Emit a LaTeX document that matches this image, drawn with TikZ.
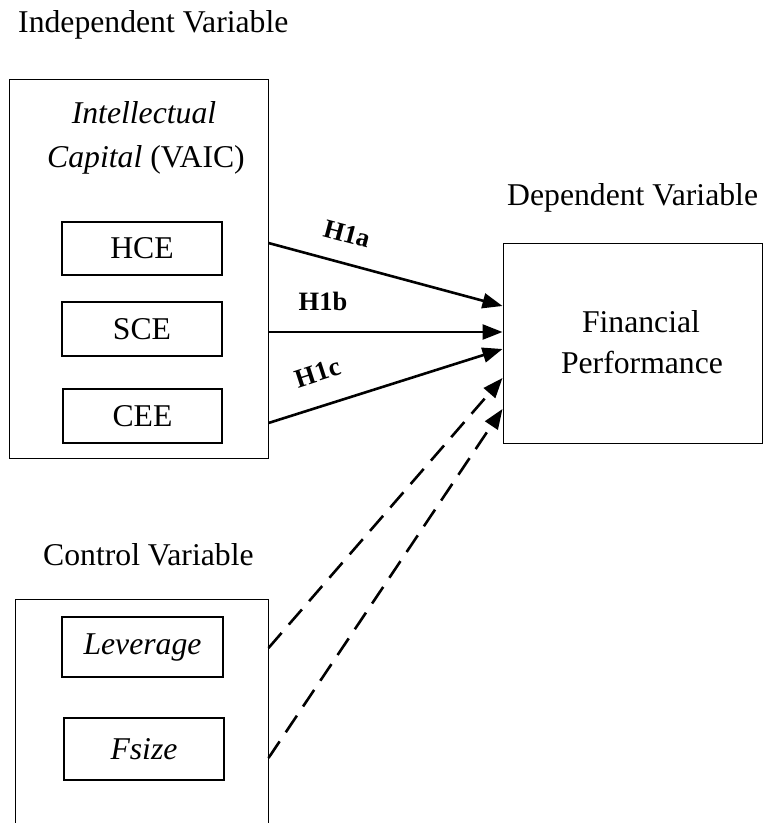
\documentclass[tikz,border=0pt]{standalone}
\usepackage{fontspec}
\setmainfont{Liberation Serif}
\usetikzlibrary{arrows.meta,calc}
\begin{document}
\begin{tikzpicture}[x=1pt,y=-1pt,
  lbl/.style={font=\fontsize{31.7}{36}\selectfont, inner sep=0pt},
  hyp/.style={font=\fontsize{26.5}{30}\selectfont\bfseries, inner sep=0pt},
  outer/.style={draw, line width=1pt, inner sep=0pt},
  inbox/.style={draw, line width=1.6pt, inner sep=0pt, font=\fontsize{31.7}{36}\selectfont},
  solidarr/.style={line width=2.6pt, -{Triangle[length=20pt,width=15pt]}},
  dasharr/.style={line width=2.6pt, dash pattern=on 20pt off 11pt, -{Triangle[length=20pt,width=15pt]}}
]
\useasboundingbox (0,0) rectangle (763,823);
\begin{scope}
\clip (0,0) rectangle (763,823);
% titles
\node[lbl, anchor=base west] (indep) at (18,32) {Independent Variable};
\node[lbl, anchor=base west] (dep) at (507,205) {Dependent Variable};
\node[lbl, anchor=base west] (ctrl) at (43,565) {Control Variable};
% outer boxes
\node[outer, minimum width=259pt, minimum height=379pt] (vaic) at (138.5,268.5) {};
\node[outer, minimum width=253pt, minimum height=250pt] (cbox) at (141.5,724) {};
\node[outer, minimum width=259.5pt, minimum height=200pt] (fp) at (632.75,343) {};
% texts of boxes
\node[lbl, anchor=base] (t1) at (144,123) {\itshape Intellectual};
\node[lbl, anchor=base] (t2) at (146,167) {\itshape Capital\upshape\ (VAIC)};
\node[lbl, anchor=base] (f1) at (641,332) {Financial};
\node[lbl, anchor=base] (f2) at (642,373) {Performance};
% inner boxes
\node[inbox, minimum width=160pt, minimum height=53pt] (hce) at (142,248.5) {HCE};
\node[inbox, minimum width=160pt, minimum height=54pt] (sce) at (142,329) {SCE};
\node[inbox, minimum width=159pt, minimum height=54pt] (cee) at (142.5,416) {CEE};
\node[inbox, minimum width=161pt, minimum height=60pt] (lev) at (142.5,647) {\itshape Leverage};
\node[inbox, minimum width=160pt, minimum height=62pt] (fsz) at (144,749) {\itshape Fsize};
% connector endpoints
\coordinate (a1) at (vaic.east |- 0,243);
\coordinate (a2) at (vaic.east |- 0,332);
\coordinate (a3) at (vaic.east |- 0,423);
\coordinate (a4) at (cbox.east |- 0,648);
\coordinate (a5) at (cbox.east |- 0,758);
\coordinate (b1) at (fp.west |- 0,306);
\coordinate (b2) at (fp.west |- 0,332);
\coordinate (b3) at (fp.west |- 0,349);
\coordinate (b4) at (fp.west |- 0,378);
\coordinate (b5) at (fp.west |- 0,409);
\draw[solidarr] (a1) -- (b1);
\draw[solidarr] (a2) -- (b2);
\draw[solidarr] (a3) -- (b3);
\draw[dasharr] (a4) -- (b4);
\draw[dasharr] (a5) -- (b5);
% hypothesis labels
\node[hyp, rotate=-15] (h1a) at (347,234) {H1a};
\node[hyp] (h1b) at (323,301) {H1b};
\node[hyp, rotate=18] (h1c) at (318,373) {H1c};
\end{scope}
\end{tikzpicture}
\end{document}
